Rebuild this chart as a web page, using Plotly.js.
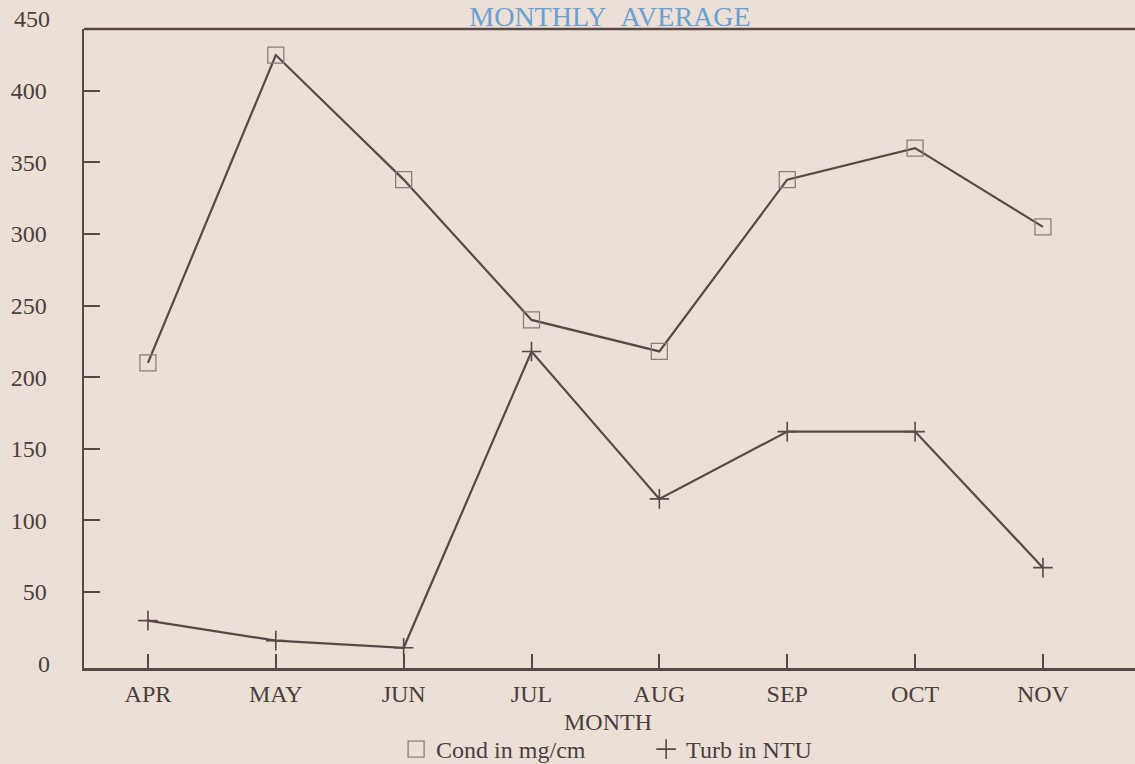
<!DOCTYPE html>
<html>
<head>
<meta charset="utf-8">
<script src="https://cdn.plot.ly/plotly-3.0.1.min.js"></script>
<style>html,body{margin:0;padding:0;background:#ecdfd6;}#chart{width:1135px;height:764px;}</style>
</head>
<body>
<div id="chart"></div>
<script>
const months = ["APR", "MAY", "JUN", "JUL", "AUG", "SEP", "OCT", "NOV"];
const condValues = [210, 425, 338, 240, 218, 338, 360, 305];
const turbValues = [30, 16, 11, 218, 115, 162, 162, 67];
const yTickValues = [50, 100, 150, 200, 250, 300, 350, 400];
const bottomTickLabel = "0";
const topTickLabel = "450";
const xAxisTitle = "MONTH";
const seriesNames = ["Cond in mg/cm", "Turb in NTU"];

const ink = "#584848";
const textInk = "#4a3e3e";
const font = "Liberation Serif, Times New Roman, serif";
const fs = 24;

const traces = [
  {x: months, y: condValues, mode: "lines", line: {color: ink, width: 2.2}, showlegend: false, hoverinfo: "skip"},
  {x: months, y: turbValues, mode: "lines", line: {color: ink, width: 2.2}, showlegend: false, hoverinfo: "skip"},
  {x: months, y: condValues, mode: "markers", name: seriesNames[0],
   marker: {symbol: "square-open", size: 16, color: "#8a7e7c", line: {width: 1.3, color: "#8a7e7c"}}},
  {x: months, y: turbValues, mode: "markers", name: seriesNames[1],
   marker: {symbol: "cross-thin-open", size: 14, color: ink, line: {width: 1.6, color: ink}}}
];

const layout = {
  width: 1135, height: 764,
  paper_bgcolor: "#ecdfd6", plot_bgcolor: "#ecdfd6",
  margin: {l: 84, r: 0, t: 29, b: 96},
  font: {family: font, size: fs, color: textInk},
  title: {text: "MONTHLY\u00a0\u00a0AVERAGE", font: {family: font, size: 28, color: "#68a2d4"},
          xref: "container", x: 0.5374, xanchor: "center", yref: "container", y: 0.979, yanchor: "middle"},
  xaxis: {
    type: "category", range: [-0.5, 7.72],
    showline: true, linecolor: ink, linewidth: 2.5, mirror: false,
    ticks: "inside", ticklen: 14, tickwidth: 2, tickcolor: ink,
    showgrid: false, zeroline: false,
    tickfont: {family: font, size: fs, color: textInk},
    ticklabelstandoff: 3
  },
  yaxis: {
    range: [-3.1, 443.2],
    tickvals: yTickValues, ticktext: yTickValues.map(String),
    showline: true, linecolor: ink, linewidth: 2.5,
    ticks: "inside", ticklen: 16, tickwidth: 2, tickcolor: ink,
    showgrid: false, zeroline: false,
    tickfont: {family: font, size: fs, color: textInk},
    ticklabelstandoff: 30
  },
  shapes: [
    {type: "line", xref: "paper", yref: "paper", x0: 0, x1: 1, y0: 1, y1: 1, line: {color: ink, width: 2.5}}
  ],
  annotations: [
    {text: topTickLabel, xref: "paper", yref: "paper", x: 0, y: 1.0153, xanchor: "right", yanchor: "middle",
     xshift: -32, showarrow: false, font: {family: font, size: fs, color: textInk}},
    {text: bottomTickLabel, xref: "paper", yref: "paper", x: 0, y: 0.0069, xanchor: "right", yanchor: "middle",
     xshift: -32, showarrow: false, font: {family: font, size: fs, color: textInk}},
    {text: xAxisTitle, xref: "paper", yref: "paper", x: 0.4986, y: -0.0845, xanchor: "center", yanchor: "middle",
     showarrow: false, font: {family: font, size: fs, color: textInk}}
  ],
  legend: {
    orientation: "h", xref: "container", yref: "container", x: 0.349, y: 0.019,
    xanchor: "left", yanchor: "middle", bgcolor: "rgba(0,0,0,0)",
    entrywidth: 205, entrywidthmode: "pixels",
    font: {family: font, size: fs, color: textInk}
  },
  showlegend: true
};

Plotly.newPlot("chart", traces, layout, {displayModeBar: false, staticPlot: true});
</script>
</body>
</html>
